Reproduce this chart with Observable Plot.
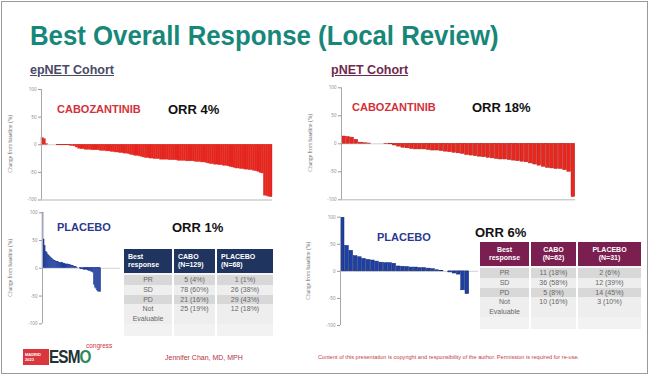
<!DOCTYPE html>
<html>
<head>
<meta charset="utf-8">
<script src="https://cdn.jsdelivr.net/npm/d3@7"></script>
<script src="https://cdn.jsdelivr.net/npm/@observablehq/plot@0.6"></script>
<style>
  html, body { margin: 0; padding: 0; background: #fff; }
  #slide { position: relative; width: 650px; height: 376px; overflow: hidden; background: #fff;
           font-family: "Liberation Sans", Arial, sans-serif; }
  .abs { position: absolute; white-space: nowrap; line-height: 1; }
  .frame { position: absolute; left: 1px; top: 1px; width: 645px; height: 371px; border: 1.5px solid #9a9a9a; }
  .ylab { position: absolute; font-size: 5.5px; color: #666; transform: rotate(-90deg); transform-origin: center; white-space: nowrap; line-height: 1; font-family: "Liberation Serif", serif; }
  table.br { position: absolute; border-collapse: separate; border-spacing: 2px 0; font-size: 7px; color: #666; }
  table.br th { color: #fff; font-weight: bold; font-size: 7px; line-height: 1.15; padding: 0 4px; height: 24px; }
  table.br td { text-align: center; line-height: 9.8px; height: 9.8px; padding: 0; vertical-align: top; }
  table.br tr.gap td { height: 2px; line-height: 2px; background: #f4f4f4; }
  table.br tr.dk td { background: #d8d8d8; }
  table.br tr.lt td { background: #eeeeee; }
  table.br tr.pad td { height: 12px; background: #f2f2f2; }
</style>
</head>
<body>
<div id="slide">
  <div class="frame"></div>
  <div class="abs" id="title" style="left:30px; top:23px; font-size:27px; font-weight:bold; color:#17877a; transform:scaleX(0.955); transform-origin:left;"></div>
  <div class="abs" id="cohortL" style="left:30px; top:64px; font-size:12.5px; font-weight:bold; color:#4a4a66; text-decoration:underline;"></div>
  <div class="abs" id="cohortR" style="left:331px; top:64px; font-size:12.5px; font-weight:bold; color:#6e2a4e; text-decoration:underline;"></div>

  <div id="c1" style="position:absolute; left:0; top:80px;"></div>
  <div id="c2" style="position:absolute; left:300px; top:80px;"></div>
  <div id="c3" style="position:absolute; left:0; top:205px;"></div>
  <div id="c4" style="position:absolute; left:300px; top:205px;"></div>

  <div class="ylab" id="yl1" style="left:-30px; top:141px; width:82px; text-align:center;"></div>
  <div class="ylab" id="yl2" style="left:270px; top:140px; width:82px; text-align:center;"></div>
  <div class="ylab" id="yl3" style="left:-30px; top:265px; width:82px; text-align:center;"></div>
  <div class="ylab" id="yl4" style="left:268px; top:268px; width:82px; text-align:center;"></div>

  <div class="abs" id="armTL" style="left:57px; top:103.6px; font-size:11px; font-weight:bold; color:#d2323a;"></div>
  <div class="abs" id="orrTL" style="left:168px; top:102.6px; font-size:13px; font-weight:bold; color:#111;"></div>
  <div class="abs" id="armTR" style="left:352px; top:101.6px; font-size:11px; font-weight:bold; color:#d2323a;"></div>
  <div class="abs" id="orrTR" style="left:472px; top:100.6px; font-size:13px; font-weight:bold; color:#111;"></div>
  <div class="abs" id="armBL" style="left:57px; top:221.6px; font-size:11px; font-weight:bold; color:#2b3a8f;"></div>
  <div class="abs" id="orrBL" style="left:172px; top:220.6px; font-size:13px; font-weight:bold; color:#111;"></div>
  <div class="abs" id="armBR" style="left:377px; top:231.6px; font-size:11px; font-weight:bold; color:#2b3a8f;"></div>
  <div class="abs" id="orrBR" style="left:475px; top:225.6px; font-size:13px; font-weight:bold; color:#111;"></div>

  <table class="br" id="tabL" style="left:122px; top:249px;"></table>
  <table class="br" id="tabR" style="left:478px; top:242px;"></table>

  <div class="abs" style="left:23px; top:349px; width:26px; height:16px; background:#d9363e; color:#fff; font-size:4px; font-weight:bold; line-height:5px; padding:3px 0 0 2px; box-sizing:border-box;">MADRID<br>2023</div>
  <div class="abs" style="left:49px; top:348px; font-size:18px; font-weight:bold; color:#233; letter-spacing:-1px; transform:scaleX(0.85); transform-origin:left;">ESM<span style="color:#2a8a5a">O</span></div>
  <div class="abs" style="left:86px; top:343px; font-size:6.5px; color:#d0343c;">congress</div>
  <div class="abs" id="author" style="left:165px; top:354px; font-size:7px; color:#b8323f;"></div>
  <div class="abs" id="copy" style="left:318px; top:355px; font-size:5.6px; color:#c0404a;"></div>
</div>
<script>
// ---------- texts ----------
const titleText = "Best Overall Response (Local Review)";
const cohorts = ["epNET Cohort", "pNET Cohort"];
const arms = ["CABOZANTINIB", "PLACEBO"];
const orrLabels = ["ORR 4%", "ORR 18%", "ORR 1%", "ORR 6%"];
const yLabel = "Change from baseline (%)";
const yTicks = [-100, -50, 0, 50, 100];
const authorText = "Jennifer Chan, MD, MPH";
const copyText = "Content of this presentation is copyright and responsibility of the author. Permission is required for re-use.";

// ---------- waterfall values (best % change from baseline, sorted) ----------
const epnetCabo = [12, 10,
  1, 0, 0, 0, 0, -1, -1, -1, -1, -1, -1, -2, -2,
  -3, -5, -7,
  -8, -8, -9, -9, -9, -10, -10, -10, -10, -11, -11, -11, -12, -12,
  -13, -13, -14, -14, -15, -15, -16, -16, -17,
  -18, -19, -20, -20, -21, -22,
  -23, -24, -24, -25, -25, -26,
  -26, -26, -27, -27, -27, -27, -28, -28, -28, -28, -29,
  -29, -29, -29, -30, -30, -30, -30, -31, -31, -31, -32,
  -32, -33, -34,
  -35, -35, -36, -36, -37, -37, -38, -38, -39,
  -40, -41, -42, -43, -43,
  -44, -44, -45, -45, -46, -46,
  -47, -48, -49,
  -51, -52,
  -92, -93, -94, -95];
const pnetCabo = [13, 12, 11, 7, 2, 1, 0.5, 0, 0, 0, -0.5, -1,
  -3, -5, -7, -8,
  -9, -10, -10, -10, -11,
  -12, -12, -13, -14, -15, -16, -17, -18,
  -20, -21, -22, -23, -24, -25, -26, -27,
  -28, -28, -29, -30, -31, -32, -33, -35,
  -37, -39, -41, -43, -44, -45, -45, -47,
  -50, -95];
const epnetPlacebo = [100, 52, 40, 30, 27, 24, 22, 20, 18, 17,
  15, 14, 13, 12, 12, 11, 10, 10, 9, 9, 8,
  8, 7, 7, 7, 6, 6, 5, 5, 4, 3, 3, 2, 1, 0, 0,
  -1, -2, -2, -3, -3, -3, -3, -4, -5, -5, -6, -7, -8,
  -30, -35, -37, -40, -42, -43, -43];
const pnetPlacebo = [99, 47, 38, 28, 26, 23, 21, 20, 18, 16, 15, 15, 14,
  9, 8.5, 8, 7, 7, 6, 6, 5, 4, 2, 1, 0, -2, -4, -6, -35, -42];

// ---------- table values ----------
const tableRowLabels = ["PR", "SD", "PD", "Not Evaluable"];
const epnetHeaders = ["Best response", "CABO (N=129)", "PLACEBO (N=68)"];
const epnetCaboCol = ["5 (4%)", "78 (60%)", "21 (16%)", "25 (19%)"];
const epnetPlaceboCol = ["1 (1%)", "26 (38%)", "29 (43%)", "12 (18%)"];
const pnetHeaders = ["Best response", "CABO (N=62)", "PLACEBO (N=31)"];
const pnetCaboCol = ["11 (18%)", "36 (58%)", "5 (8%)", "10 (16%)"];
const pnetPlaceboCol = ["2 (6%)", "12 (39%)", "14 (45%)", "3 (10%)"];

// ---------- fill texts ----------
const set = (id, t) => document.getElementById(id).textContent = t;
set("title", titleText);
set("cohortL", cohorts[0]); set("cohortR", cohorts[1]);
set("armTL", arms[0]); set("armTR", arms[0]); set("armBL", arms[1]); set("armBR", arms[1]);
set("orrTL", orrLabels[0]); set("orrTR", orrLabels[1]); set("orrBL", orrLabels[2]); set("orrBR", orrLabels[3]);
["yl1","yl2","yl3","yl4"].forEach(id => set(id, yLabel));
set("author", authorText); set("copy", copyText);

// ---------- charts ----------
function waterfall(values, o) {
  const data = values.map((v, i) => ({i, v}));
  const marks = [
    Plot.ruleY([0], {stroke: "#c8c8c8", strokeWidth: 0.8}),
    Plot.rect(data, {x1: "i", x2: d => d.i + 1, y1: 0, y2: "v",
      fill: o.fill, stroke: o.stroke, strokeWidth: o.sw, insetLeft: o.inset, insetRight: o.inset}),
    Plot.axisY({ticks: yTicks, tickSize: 3, fontSize: 4.5, tickPadding: 2, stroke: "#999", fill: "#888", label: null, tickFormat: d => d}),
    Plot.ruleX([0], {stroke: "#a8a8a8", strokeWidth: 1})
  ];
  if (o.bottomRule) marks.unshift(Plot.ruleY([-100], {stroke: "#b5b5b5", strokeWidth: 1}));
  return Plot.plot({
    width: o.width, height: o.height,
    marginLeft: o.ml, marginRight: o.mr, marginTop: o.mt, marginBottom: o.mb,
    x: {domain: [0, o.xmax], axis: null},
    y: {domain: [-100, 100], axis: null},
    style: {background: "transparent", overflow: "visible"},
    marks
  });
}

document.getElementById("c1").append(waterfall(epnetCabo, {
  width: 290, height: 130, ml: 41, mr: 18, mt: 9, mb: 10.5, xmax: epnetCabo.length,
  fill: "#e4261f", stroke: "#e4261f", sw: 0.4, inset: 0, bottomRule: true}));
document.getElementById("c2").append(waterfall(pnetCabo, {
  width: 290, height: 130, ml: 41, mr: 15, mt: 7.3, mb: 10.7, xmax: pnetCabo.length,
  fill: "#e8271f", stroke: "#b51c16", sw: 0.5, inset: 0.3, bottomRule: true}));
document.getElementById("c3").append(waterfall(epnetPlacebo, {
  width: 130, height: 125, ml: 42, mr: 10, mt: 7.3, mb: 6.7, xmax: epnetPlacebo.length * 78 / 58.7,
  fill: "#1d3b9a", stroke: "#1d3b9a", sw: 0.3, inset: 0, bottomRule: false}));
document.getElementById("c4").append(waterfall(pnetPlacebo, {
  width: 180, height: 125, ml: 40, mr: 2, mt: 11.7, mb: 5, xmax: pnetPlacebo.length * 138 / 129,
  fill: "#1f40a3", stroke: "#14276e", sw: 0.5, inset: 0.3, bottomRule: false}));

// ---------- tables ----------
function buildTable(id, headers, colA, colB, headColor, widths, align) {
  const t = document.getElementById(id);
  const split = s => s.replace(" ", "<br>");
  let h = "<tr>" + headers.map((s, k) =>
    `<th style="background:${headColor}; width:${widths[k]}px; text-align:${align};">${split(s)}</th>`).join("") + "</tr>";
  h += `<tr class="gap"><td></td><td></td><td></td></tr>`;
  tableRowLabels.forEach((lab, r) => {
    const cls = r % 2 === 0 ? "dk" : "lt";
    const l = lab === "Not Evaluable" ? "Not<br>Evaluable" : lab;
    h += `<tr class="${cls}"><td>${l}</td><td>${colA[r]}</td><td>${colB[r]}</td></tr>`;
  });
  h += `<tr class="pad"><td></td><td></td><td></td></tr>`;
  t.innerHTML = h;
}
buildTable("tabL", epnetHeaders, epnetCaboCol, epnetPlaceboCol, "#1f3560", [40, 33, 48], "left");
buildTable("tabR", pnetHeaders, pnetCaboCol, pnetPlaceboCol, "#7b1e50", [41, 37, 55], "center");
</script>
</body>
</html>
